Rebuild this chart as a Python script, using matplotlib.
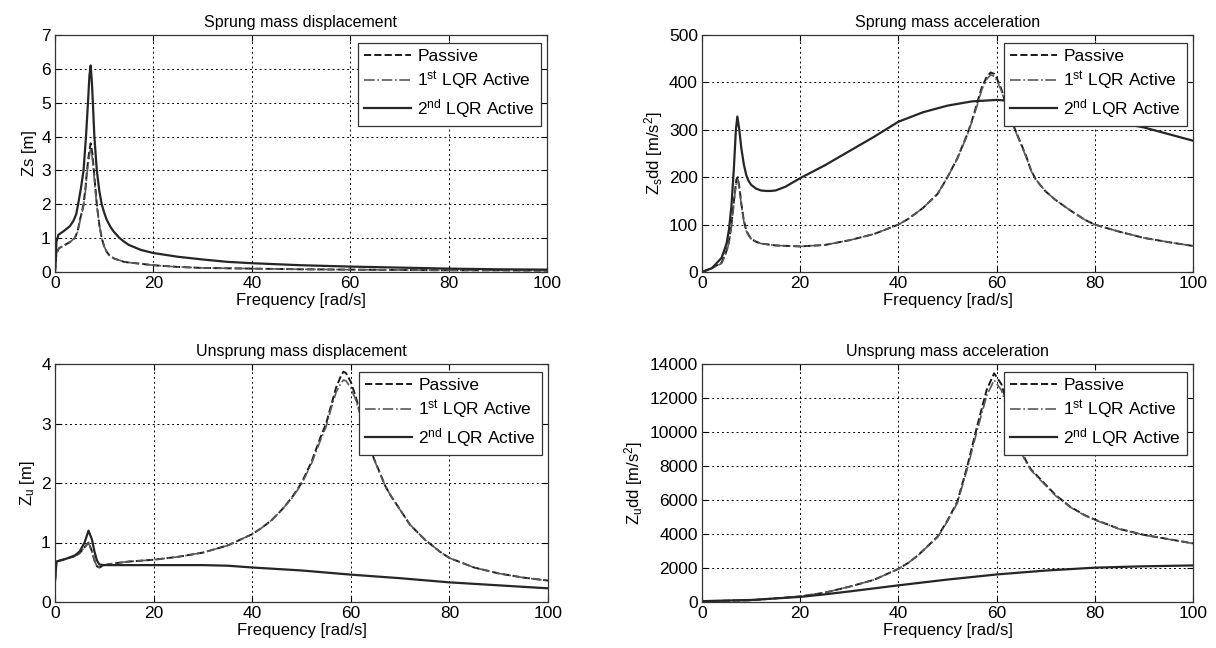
import matplotlib
matplotlib.use("Agg")
import matplotlib.pyplot as plt

plt.rcParams['font.family'] = ['Liberation Sans', 'DejaVu Sans']
plt.rcParams['mathtext.fontset'] = 'custom'
plt.rcParams['mathtext.rm'] = 'Liberation Sans'
plt.rcParams['mathtext.it'] = 'Liberation Sans'

# ---------------- Sprung mass displacement ----------------
zs_f_pas = [0, 0.3, 0.8, 2, 3, 4, 4.6, 5, 5.5, 5.8, 6.2, 6.5, 6.9, 7.25, 7.6, 7.9, 8.2, 8.5, 9, 9.5, 10, 10.5, 11, 12, 13, 14, 15, 17, 20, 25, 30, 40, 50, 60, 70, 80, 90, 100]
zs_passive = [0, 0.55, 0.7, 0.8, 0.88, 1.0, 1.2, 1.5, 1.8, 2.0, 2.5, 3.0, 3.5, 3.8, 3.5, 3.0, 2.5, 2.0, 1.4, 1.0, 0.75, 0.6, 0.5, 0.4, 0.35, 0.3, 0.28, 0.25, 0.2, 0.15, 0.12, 0.1, 0.08, 0.07, 0.06, 0.05, 0.05, 0.04]
zs_lqr1 = [0, 0.55, 0.7, 0.8, 0.88, 1.0, 1.18, 1.45, 1.75, 1.95, 2.4, 2.9, 3.35, 3.65, 3.35, 2.9, 2.4, 1.95, 1.4, 1.0, 0.75, 0.6, 0.5, 0.4, 0.35, 0.3, 0.28, 0.25, 0.2, 0.15, 0.12, 0.1, 0.08, 0.07, 0.06, 0.05, 0.05, 0.04]
zs_f_l2 = [0, 0.3, 0.7, 1.7, 3, 3.7, 4.3, 4.7, 5.3, 5.8, 6.3, 6.7, 7.0, 7.25, 7.5, 7.7, 8.0, 8.5, 9.0, 9.5, 10.0, 10.5, 11.2, 11.9, 13, 14, 15, 17.5, 20, 25, 30, 35, 40, 50, 60, 70, 80, 90, 100]
zs_lqr2 = [0, 0.9, 1.1, 1.2, 1.35, 1.5, 1.7, 2.0, 2.5, 3.0, 4.0, 5.0, 5.8, 6.1, 5.6, 5.0, 4.0, 3.0, 2.4, 2.0, 1.75, 1.55, 1.35, 1.2, 1.02, 0.9, 0.8, 0.65, 0.56, 0.45, 0.37, 0.3, 0.26, 0.2, 0.16, 0.13, 0.1, 0.08, 0.07]

# ---------------- Sprung mass acceleration ----------------
za_f_pas = [0, 2, 4, 5, 5.5, 6, 6.5, 7.0, 7.3, 7.7, 8, 8.5, 9, 9.5, 10, 11, 12, 15, 20, 25, 30, 35, 40, 42, 45, 48, 50, 52, 54, 55, 56, 57, 58, 58.8, 59.5, 60, 61, 62, 63, 64, 65, 66, 67, 68, 69, 70, 72, 75, 78, 80, 85, 90, 95, 100]
za_passive = [0, 8, 20, 45, 65, 100, 150, 195, 200, 172, 145, 110, 88, 78, 70, 64, 60, 56, 54, 57, 67, 80, 100, 112, 135, 165, 200, 240, 290, 320, 355, 390, 412, 421, 418, 410, 385, 350, 320, 295, 270, 245, 215, 195, 182, 170, 152, 130, 110, 100, 85, 72, 63, 55]
za_lqr1 = [0, 8, 18, 42, 62, 95, 145, 190, 195, 168, 142, 108, 87, 77, 70, 64, 60, 56, 54, 57, 67, 80, 100, 112, 135, 165, 200, 239, 288, 318, 350, 385, 407, 416, 413, 405, 382, 348, 318, 293, 268, 243, 214, 195, 182, 170, 152, 130, 110, 100, 85, 72, 63, 55]
za_f_l2 = [0, 2, 4, 5, 5.5, 6, 6.5, 6.9, 7.2, 7.6, 8, 8.5, 9, 9.5, 10, 11, 12, 13, 14, 15, 17, 20, 25, 30, 35, 40, 45, 50, 55, 60, 65, 70, 80, 90, 100]
za_lqr2 = [0, 8, 30, 60, 90, 140, 220, 300, 328, 300, 262, 228, 205, 192, 184, 176, 172, 171, 171, 172, 180, 198, 225, 255, 285, 317, 337, 351, 360, 363, 360, 350, 325, 305, 277]

# ---------------- Unsprung mass displacement ----------------
zu_f = [0, 0.3, 2, 4, 5, 6, 6.8, 7.5, 8, 8.5, 9, 10, 12, 15, 20, 25, 30, 35, 40, 42, 44, 46, 48, 50, 52, 54, 55, 56, 57, 58, 58.5, 59, 60, 61, 62, 63, 64, 65, 66, 67, 68, 70, 72, 75, 78, 80, 85, 90, 95, 100]
zu_passive = [0.35, 0.68, 0.72, 0.77, 0.82, 0.92, 1.0, 0.85, 0.7, 0.6, 0.58, 0.62, 0.65, 0.68, 0.71, 0.76, 0.83, 0.95, 1.14, 1.25, 1.38, 1.55, 1.75, 2.0, 2.35, 2.8, 3.0, 3.3, 3.6, 3.8, 3.87, 3.85, 3.7, 3.45, 3.15, 2.85, 2.55, 2.35, 2.15, 1.95, 1.8, 1.55, 1.3, 1.05, 0.85, 0.74, 0.58, 0.48, 0.41, 0.36]
zu_lqr1 = [0.35, 0.68, 0.72, 0.77, 0.82, 0.92, 0.99, 0.85, 0.7, 0.6, 0.58, 0.62, 0.65, 0.68, 0.71, 0.76, 0.83, 0.95, 1.14, 1.25, 1.38, 1.55, 1.74, 1.98, 2.32, 2.75, 2.95, 3.25, 3.52, 3.68, 3.73, 3.72, 3.6, 3.4, 3.12, 2.83, 2.54, 2.34, 2.14, 1.95, 1.8, 1.55, 1.3, 1.05, 0.85, 0.74, 0.58, 0.48, 0.41, 0.36]
zu_f_l2 = [0, 0.3, 2, 4, 5, 6, 6.8, 7.5, 8, 8.5, 9, 10, 15, 20, 30, 35, 40, 50, 60, 70, 80, 90, 100]
zu_lqr2 = [0.35, 0.68, 0.72, 0.78, 0.85, 1.0, 1.2, 1.05, 0.85, 0.7, 0.63, 0.62, 0.62, 0.62, 0.62, 0.61, 0.58, 0.53, 0.46, 0.4, 0.33, 0.28, 0.23]

# ---------------- Unsprung mass acceleration ----------------
zua_f = [0, 10, 20, 25, 30, 35, 40, 42, 44, 46, 48, 50, 52, 54, 56, 58, 59.5, 61, 62, 63, 64, 65, 66, 67, 70, 72, 75, 78, 80, 85, 90, 95, 100]
zua_passive = [50, 100, 330, 550, 900, 1300, 1950, 2300, 2750, 3300, 3850, 4800, 5900, 7950, 10300, 12500, 13450, 12800, 11800, 10800, 9700, 8900, 8300, 7800, 6900, 6300, 5600, 5100, 4850, 4300, 3950, 3700, 3450]
zua_lqr1 = [50, 100, 330, 550, 900, 1300, 1950, 2300, 2740, 3280, 3820, 4750, 5820, 7800, 10050, 12150, 13050, 12450, 11550, 10600, 9550, 8800, 8220, 7750, 6850, 6250, 5580, 5080, 4830, 4290, 3940, 3690, 3440]
zua_f_l2 = [0, 10, 20, 25, 30, 35, 40, 50, 60, 70, 80, 90, 100]
zua_lqr2 = [50, 120, 300, 450, 620, 800, 980, 1320, 1620, 1850, 2020, 2100, 2150]

legend_labels = ['Passive', r'1$^{\rm st}$ LQR Active', r'2$^{\rm nd}$ LQR Active']
xticks = [0, 20, 40, 60, 80, 100]

W, H = 1216, 648
fig = plt.figure(figsize=(W / 100, H / 100), dpi=100)

def px_axes(x0, y0, x1, y1):
    return fig.add_axes([x0 / W, 1 - y1 / H, (x1 - x0) / W, (y1 - y0) / H])

panels = [
    dict(box=(55, 35, 547, 272), title='Sprung mass displacement', ylabel='Zs [m]',
         data=[(zs_f_pas, zs_passive), (zs_f_pas, zs_lqr1), (zs_f_l2, zs_lqr2)],
         ylim=(0, 7), yticks=list(range(0, 8))),
    dict(box=(702, 35, 1193, 272), title='Sprung mass acceleration', ylabel=r'Z$_{\rm s}$dd [m/s$^{2}$]',
         data=[(za_f_pas, za_passive), (za_f_pas, za_lqr1), (za_f_l2, za_lqr2)],
         ylim=(0, 500), yticks=list(range(0, 501, 100))),
    dict(box=(55, 364, 548, 602), title='Unsprung mass displacement', ylabel=r'Z$_{\rm u}$ [m]',
         data=[(zu_f, zu_passive), (zu_f, zu_lqr1), (zu_f_l2, zu_lqr2)],
         ylim=(0, 4), yticks=list(range(0, 5))),
    dict(box=(702, 364, 1193, 602), title='Unsprung mass acceleration', ylabel=r'Z$_{\rm u}$dd [m/s$^{2}$]',
         data=[(zua_f, zua_passive), (zua_f, zua_lqr1), (zua_f_l2, zua_lqr2)],
         ylim=(0, 14000), yticks=list(range(0, 14001, 2000))),
]

styles = [dict(ls='--', color='#1a1a1a', lw=1.4),
          dict(ls='-.', color='#5a5a5a', lw=1.2),
          dict(ls='-', color='#262626', lw=1.6)]

for p in panels:
    ax = px_axes(*p['box'])
    for (xf, yv), st, lab in zip(p['data'], styles, legend_labels):
        ax.plot(xf, yv, label=lab, **st)
    ax.set_xlim(0, 100)
    ax.set_ylim(*p['ylim'])
    ax.set_xticks(xticks)
    ax.set_yticks(p['yticks'])
    ax.grid(True, ls=(0, (2, 3)), color='black', lw=0.7)
    ax.tick_params(direction='in', top=True, right=True, length=4, labelsize=12.5, width=0.8, pad=3)
    for s in ax.spines.values():
        s.set_linewidth(0.9)
        s.set_color('#333333')
    ax.set_title(p['title'], fontsize=11.5, pad=6)
    ax.set_xlabel('Frequency [rad/s]', fontsize=12, labelpad=1)
    ax.set_ylabel(p['ylabel'], fontsize=12, labelpad=3)
    bw = p['box'][2] - p['box'][0]
    bh = p['box'][3] - p['box'][1]
    leg = ax.legend(loc='upper right', bbox_to_anchor=(1 - 6 / bw, 1 - 8 / bh), borderaxespad=0,
                    fontsize=12.5, fancybox=False, framealpha=1, edgecolor='#333333',
                    handlelength=2.7, handletextpad=0.35, borderpad=0.35, labelspacing=0.3)
    leg.get_frame().set_linewidth(0.9)

fig.savefig('out.png', dpi=100)
